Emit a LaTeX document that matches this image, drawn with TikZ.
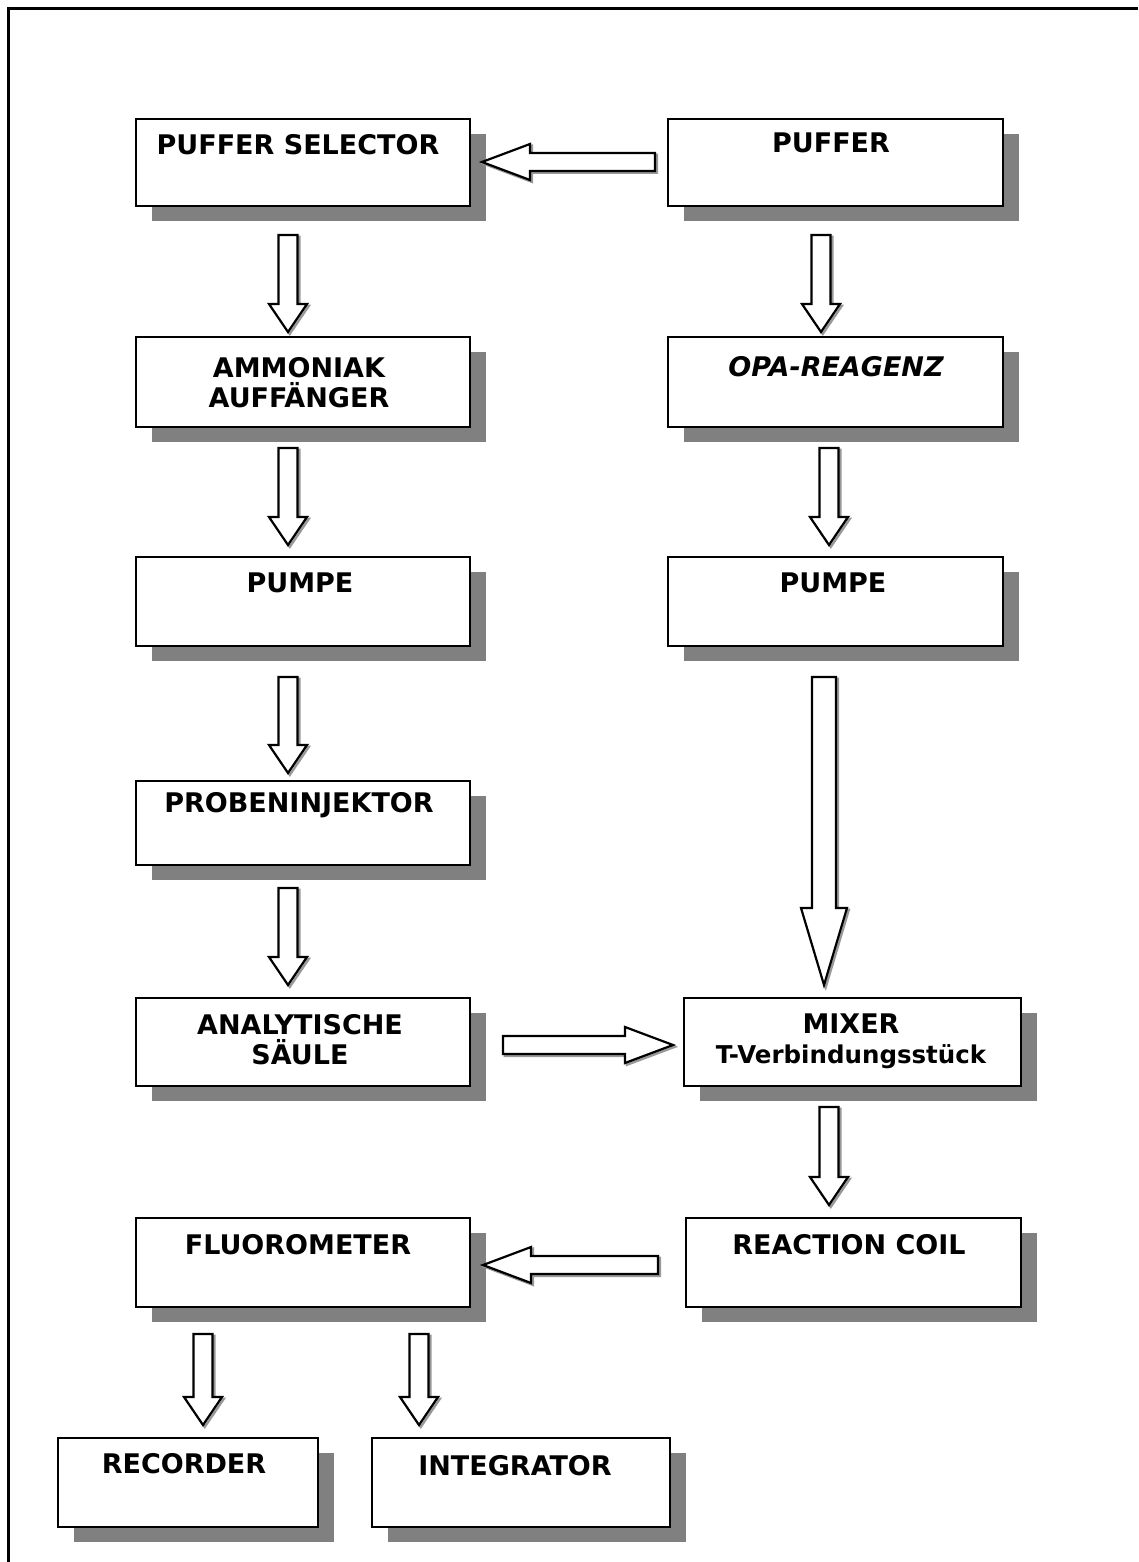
\documentclass[tikz,border=0pt]{standalone}
\usepackage{fontspec}
\setmainfont{DejaVu Sans}
\usetikzlibrary{calc,shadows}
\definecolor{shadowgray}{HTML}{808080}
\tikzset{
  blk/.style={draw=black, line width=2.6pt, fill=white, inner sep=0pt,
    drop shadow={shadow xshift=16pt, shadow yshift=-15pt, fill=shadowgray, opacity=1}},
  lbl/.style={inner sep=0pt, anchor=north, align=center,
    font=\fontsize{27}{30}\selectfont\bfseries},
  blkarrow/.style={draw=black, line width=2.2pt, fill=white, line join=miter,
    preaction={draw=black!40, line width=2.4pt, transform canvas={xshift=1.8pt, yshift=-1.8pt}}},
  frame/.style={draw=black, line width=3pt},
}
% name, x1, y1, x2, y2
\newcommand\mkbox[5]{\node[blk, minimum width={(#4)-(#2)}, minimum height={(#5)-(#3)}] (#1) at ({((#2)+(#4))/2},{((#3)+(#5))/2}) {};}
% tail, tip, half shaft width, half head width, head length
\newcommand\blkarr[5]{%
  \coordinate (hb) at ($(#2)!#5pt!(#1)$);
  \draw[blkarrow] ($(#1)!#3pt!90:(#2)$) -- ($(hb)!#3pt!90:(#2)$) -- ($(hb)!#4pt!90:(#2)$)
    -- (#2) -- ($(hb)!#4pt!-90:(#2)$) -- ($(hb)!#3pt!-90:(#2)$) -- ($(#1)!#3pt!-90:(#2)$) -- cycle;}
\begin{document}
\begin{tikzpicture}[x=1pt,y=-1pt]
\useasboundingbox (0,0) rectangle (1138,1562);
\fill[white] (0,0) rectangle (1138,1562);
% outer frame
\coordinate (fbl) at (8,1562);
\coordinate (ftl) at (8,9);
\coordinate (ftr) at (1138,9);
\draw[frame] (fbl) -- (ftl) -- (ftr);

% boxes
\mkbox{ps}{136}{119}{470}{206}
\mkbox{pu}{668}{119}{1003}{206}
\mkbox{am}{136}{337}{470}{427}
\mkbox{opa}{668}{337}{1003}{427}
\mkbox{pa}{136}{557}{470}{646}
\mkbox{pb}{668}{557}{1003}{646}
\mkbox{pi}{136}{781}{470}{865}
\mkbox{as}{136}{998}{470}{1086}
\mkbox{mx}{684}{998}{1021}{1086}
\mkbox{fl}{136}{1218}{470}{1307}
\mkbox{rc}{686}{1218}{1021}{1307}
\mkbox{rec}{58}{1438}{318}{1527}
\mkbox{int}{372}{1438}{670}{1527}

% labels
\node[lbl] (ps-t) at (298,134) {PUFFER SELECTOR};
\node[lbl] (pu-t) at (831,133) {PUFFER};
\node[lbl] (am-t) at (299,357) {AMMONIAK\\AUFFÄNGER};
\node[lbl] (opa-t) at (836,356) {\itshape OPA-REAGENZ};
\node[lbl] (pa-t) at (300,573) {PUMPE};
\node[lbl] (pb-t) at (833,573) {PUMPE};
\node[lbl] (pi-t) at (299,792) {PROBENINJEKTOR};
\node[lbl] (as-t) at (300,1014) {ANALYTISCHE\\SÄULE};
\node[lbl] (mx-t) at (851,1014) {MIXER\\{\fontsize{24.5}{30}\selectfont T-Verbindungsstück}};
\node[lbl] (fl-t) at (298,1234) {FLUOROMETER};
\node[lbl] (rc-t) at (849,1234) {REACTION COIL};
\node[lbl] (rec-t) at (184,1453) {RECORDER};
\node[lbl] (int-t) at (515,1455) {INTEGRATOR};

% arrow end points
\coordinate (a1s) at (288,235);  \coordinate (a1e) at (288,332);
\coordinate (a2s) at (821,235);  \coordinate (a2e) at (821,332);
\coordinate (a3s) at (288,448);  \coordinate (a3e) at (288,545);
\coordinate (a4s) at (829,448);  \coordinate (a4e) at (829,545);
\coordinate (a5s) at (288,677);  \coordinate (a5e) at (288,773);
\coordinate (a6s) at (288,888);  \coordinate (a6e) at (288,985);
\coordinate (a7s) at (824,677);  \coordinate (a7e) at (824,985);
\coordinate (a8s) at (829,1107); \coordinate (a8e) at (829,1205);
\coordinate (a9s) at (203,1334); \coordinate (a9e) at (203,1425);
\coordinate (a10s) at (419,1334); \coordinate (a10e) at (419,1425);
\coordinate (h1s) at (655,162);  \coordinate (h1e) at (482,162);
\coordinate (h2s) at (503,1045); \coordinate (h2e) at (673,1045);
\coordinate (h3s) at (658,1265); \coordinate (h3e) at (483,1265);

% arrows
\blkarr{a1s}{a1e}{9.5}{19}{28}
\blkarr{a2s}{a2e}{9.5}{19}{28}
\blkarr{a3s}{a3e}{9.5}{19}{28}
\blkarr{a4s}{a4e}{9.5}{19}{28}
\blkarr{a5s}{a5e}{9.5}{19}{28}
\blkarr{a6s}{a6e}{9.5}{19}{28}
\blkarr{a7s}{a7e}{12}{23}{77}
\blkarr{a8s}{a8e}{9.5}{19}{28}
\blkarr{a9s}{a9e}{9.5}{19}{28}
\blkarr{a10s}{a10e}{9.5}{19}{28}
\blkarr{h1s}{h1e}{9}{18}{48}
\blkarr{h2s}{h2e}{9}{18}{48}
\blkarr{h3s}{h3e}{9}{18}{48}
\end{tikzpicture}
\end{document}
